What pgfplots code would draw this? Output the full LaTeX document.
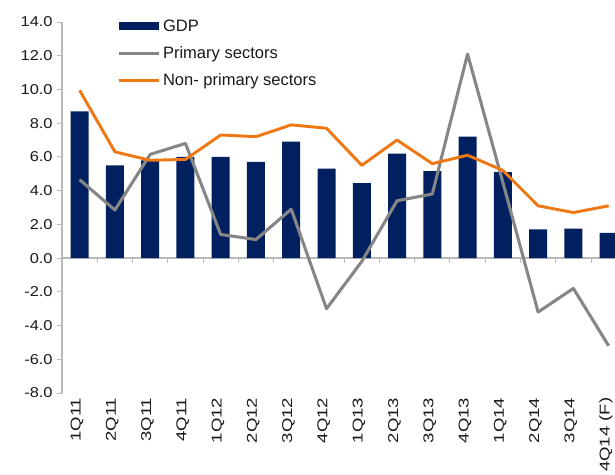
\documentclass[border=0pt]{standalone}
\usepackage{fontspec}
\setmainfont{Liberation Sans}
\newfontfamily\tickfont[FakeStretch=1.3]{Liberation Sans}
\newfontfamily\ytickfont[FakeStretch=1.15]{Liberation Sans}
\usepackage{pgfplots}
\usepackage{pgfplotstable}
\pgfplotsset{compat=1.18}
\definecolor{gdpnavy}{RGB}{0,32,96}
\definecolor{primgray}{RGB}{134,134,134}
\definecolor{nonprim}{RGB}{240,120,20}
\definecolor{axgray}{RGB}{185,185,185}

% quarterly growth, % y/y
\pgfplotstableread{
idx gdp  prim  nonprim
0   8.7  4.65  9.95
1   5.5  2.85  6.3
2   5.8  6.15  5.8
3   6.0  6.8   5.85
4   6.0  1.4   7.3
5   5.7  1.1   7.2
6   6.9  2.9   7.9
7   5.3  -3.0  7.7
8   4.45 -0.2  5.5
9   6.2  3.4   7.0
10  5.15 3.8   5.6
11  7.2  12.1  6.1
12  5.1  4.5   5.2
13  1.7  -3.2  3.1
14  1.75 -1.8  2.7
15  1.5  -5.2  3.1
}\growth

\begin{document}
\begin{tikzpicture}
\pgfplotsset{commonax/.style={
  at={(0,0)}, anchor=south west,
  width=414.75pt, height=278.25pt, scale only axis,
  xmin=-0.5, xmax=15.18, ymin=-8, ymax=14}}

% zero line with category separators
\begin{axis}[commonax,
  axis x line*=middle, axis y line=none,
  xtick={0.5,1.5,...,14.5}, xticklabels={},
  xtick align=outside, major tick length=4pt,
  x axis line style={axgray, line width=0.9pt},
  xtick style={axgray, line width=0.7pt}]
\end{axis}

\begin{axis}[commonax,
  axis y line*=left, axis x line*=bottom,
  x axis line style={draw=none},
  y axis line style={axgray, line width=0.9pt},
  ytick={-8,-6,...,14},
  ytick align=outside,
  ytick style={axgray, line width=0.7pt},
  major tick length=4pt,
  xtick={0,...,15},
  xticklabels={1Q11,2Q11,3Q11,4Q11,1Q12,2Q12,3Q12,4Q12,1Q13,2Q13,3Q13,4Q13,1Q14,2Q14,3Q14,4Q14 (F)},
  xtick style={draw=none},
  xticklabel style={rotate=90, anchor=east, text=black!90,
    font=\tickfont\fontsize{10.7}{12}\selectfont, yshift=2pt},
  yticklabel style={text=black!90,
    font=\ytickfont\fontsize{10.7}{12}\selectfont, xshift=0.5pt},
  /pgf/number format/.cd, fixed, fixed zerofill, precision=1,
    assume math mode=true,
  /pgfplots/.cd,
  legend cell align=left,
  legend style={at={(0.0995,1.0)}, anchor=north west, yshift=4pt,
    draw=none, fill=none, inner sep=0pt, row sep=5.8pt,
    font=\fontsize{12.4}{14}\selectfont, text=black!90,
    /tikz/every even column/.append style={column sep=2.5pt}},
]
\addplot[ybar, bar width=13.5pt, fill=gdpnavy, draw=none,
  legend image code/.code={\fill[gdpnavy] (0pt,-3pt) rectangle (30pt,3pt);}]
  table[x=idx, y=gdp] {\growth};
\addplot[primgray, line width=2.3pt, line join=round,
  legend image code/.code={\draw[primgray, line width=2.3pt] (0pt,0pt) -- (30pt,0pt);}]
  table[x=idx, y=prim] {\growth};
\addplot[nonprim, line width=2.2pt, line join=round,
  legend image code/.code={\draw[nonprim, line width=2.2pt] (0pt,0pt) -- (30pt,0pt);}]
  table[x=idx, y=nonprim] {\growth};
\legend{GDP,Primary sectors,Non- primary sectors}
\end{axis}

\pgfresetboundingbox
\path[use as bounding box] (-46.5pt,-61.5pt) rectangle (414.75pt,294.75pt);
\end{tikzpicture}
\end{document}
